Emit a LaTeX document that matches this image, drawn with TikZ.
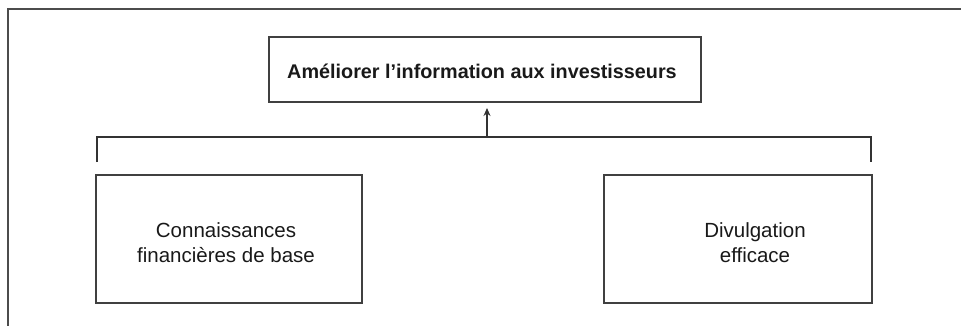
\documentclass[tikz,border=0pt]{standalone}
\usepackage{fontspec}
\setmainfont{Liberation Sans}
\usetikzlibrary{arrows.meta}
\begin{document}
\begin{tikzpicture}[x=1pt,y=-1pt,
  frameline/.style={draw=black!70,line width=1.4pt},
  boxline/.style={draw=black!75,line width=1.2pt},
  conn/.style={draw=black!80,line width=1.1pt},
  lbl/.style={font=\fontsize{20.5}{25}\selectfont,align=center,text=black!90}]
\useasboundingbox (0,0) rectangle (961,326);
% outer frame
\coordinate (fa) at (8,326);
\coordinate (fb) at (8,9);
\coordinate (fc) at (961,9);
\draw[frameline] (fa) -- (fb) -- (fc);
% boxes
\draw[boxline] (269,37) rectangle (701,102);
\node[lbl,font=\bfseries\fontsize{19.8}{24}\selectfont] (top) at (482,71) {Améliorer l’information aux investisseurs};
\coordinate (topb) at (487,108);
\draw[boxline] (96,175) rectangle (362,303);
\node[lbl] (left) at (226,243) {Connaissances\\financières de base};
\draw[boxline] (604,175) rectangle (872,303);
\node[lbl] (right) at (755,243) {Divulgation\\efficace};
% connectors
\coordinate (hl) at (97,137);
\coordinate (hr) at (871,137);
\coordinate (hm) at (487,137);
\coordinate (tl) at (97,162);
\coordinate (tr) at (871,162);
\draw[conn] (tl) -- (hl) -- (hr) -- (tr);
\draw[conn,-{Stealth[length=8pt,width=7pt]}] (hm) -- (topb);
\end{tikzpicture}
\end{document}
